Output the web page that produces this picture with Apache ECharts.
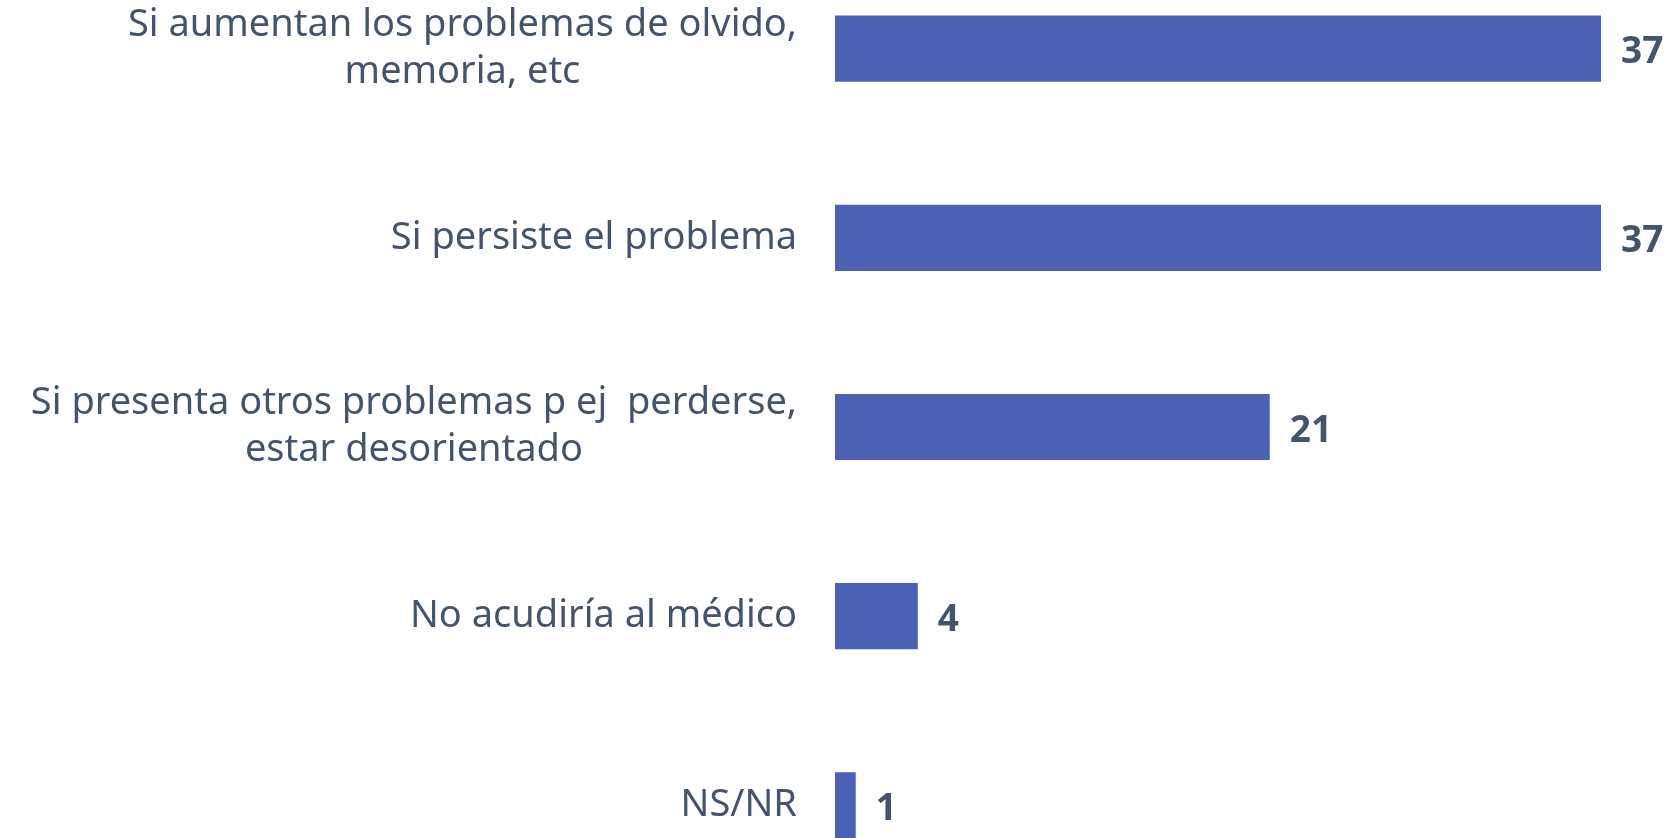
<!DOCTYPE html>
<html>
<head>
<meta charset="utf-8">
<script src="https://cdn.jsdelivr.net/npm/echarts@6/dist/echarts.min.js"></script>
<style>
  html, body { margin: 0; padding: 0; background: #ffffff; width: 1670px; height: 838px; overflow: hidden; position: relative; }
  /* the last bar is cut by the lower edge, so the chart runs past the window */
  #chart { position: absolute; left: 0; top: -46px; width: 1670px; height: 946px; }
</style>
</head>
<body>
<div id="chart"></div>
<script>
// categorias (lineas separadas por \n)
const categories = [
  'Si aumentan los problemas de olvido,\nmemoria, etc',
  'Si persiste el problema',
  'Si presenta otros problemas p ej  perderse,\nestar desorientado',
  'No acudiría al médico',
  'NS/NR'
]
const values = [37, 37, 21, 4, 1]

const textColor = '#44546A'
const barColor = '#4B61B3'
const fontFamily = '"Noto Sans", "DejaVu Sans", sans-serif'

const chart = echarts.init(document.getElementById('chart'))
chart.setOption({
  animation: false,
  grid: {
    left: 835,
    right: 69,
    top: 0,
    bottom: 0,
    containLabel: false
  },
  xAxis: {
    type: 'value',
    min: 0,
    max: 37,
    show: false
  },
  yAxis: {
    type: 'category',
    inverse: true,
    data: categories,
    axisLine: { show: false },
    axisTick: { show: false },
    splitLine: { show: false },
    axisLabel: {
      margin: 38,
      align: 'right',
      color: textColor,
      fontFamily: fontFamily,
      fontSize: 38,
      lineHeight: 47,
      formatter: function (v) {
        return v.split('\n').map(function (s) { return '{c|' + s + '}' }).join('\n')
      },
      rich: {
        c: {
          align: 'center',
          color: textColor,
          fontFamily: fontFamily,
          fontSize: 38,
          lineHeight: 47
        }
      }
    }
  },
  series: [
    {
      type: 'bar',
      data: values,
      barCategoryGap: '65%',
      itemStyle: { color: barColor },
      label: {
        show: true,
        position: 'right',
        distance: 20,
        offset: [0, 4],
        color: textColor,
        fontFamily: fontFamily,
        fontWeight: 'bold',
        fontSize: 37
      }
    }
  ]
})
</script>
</body>
</html>
